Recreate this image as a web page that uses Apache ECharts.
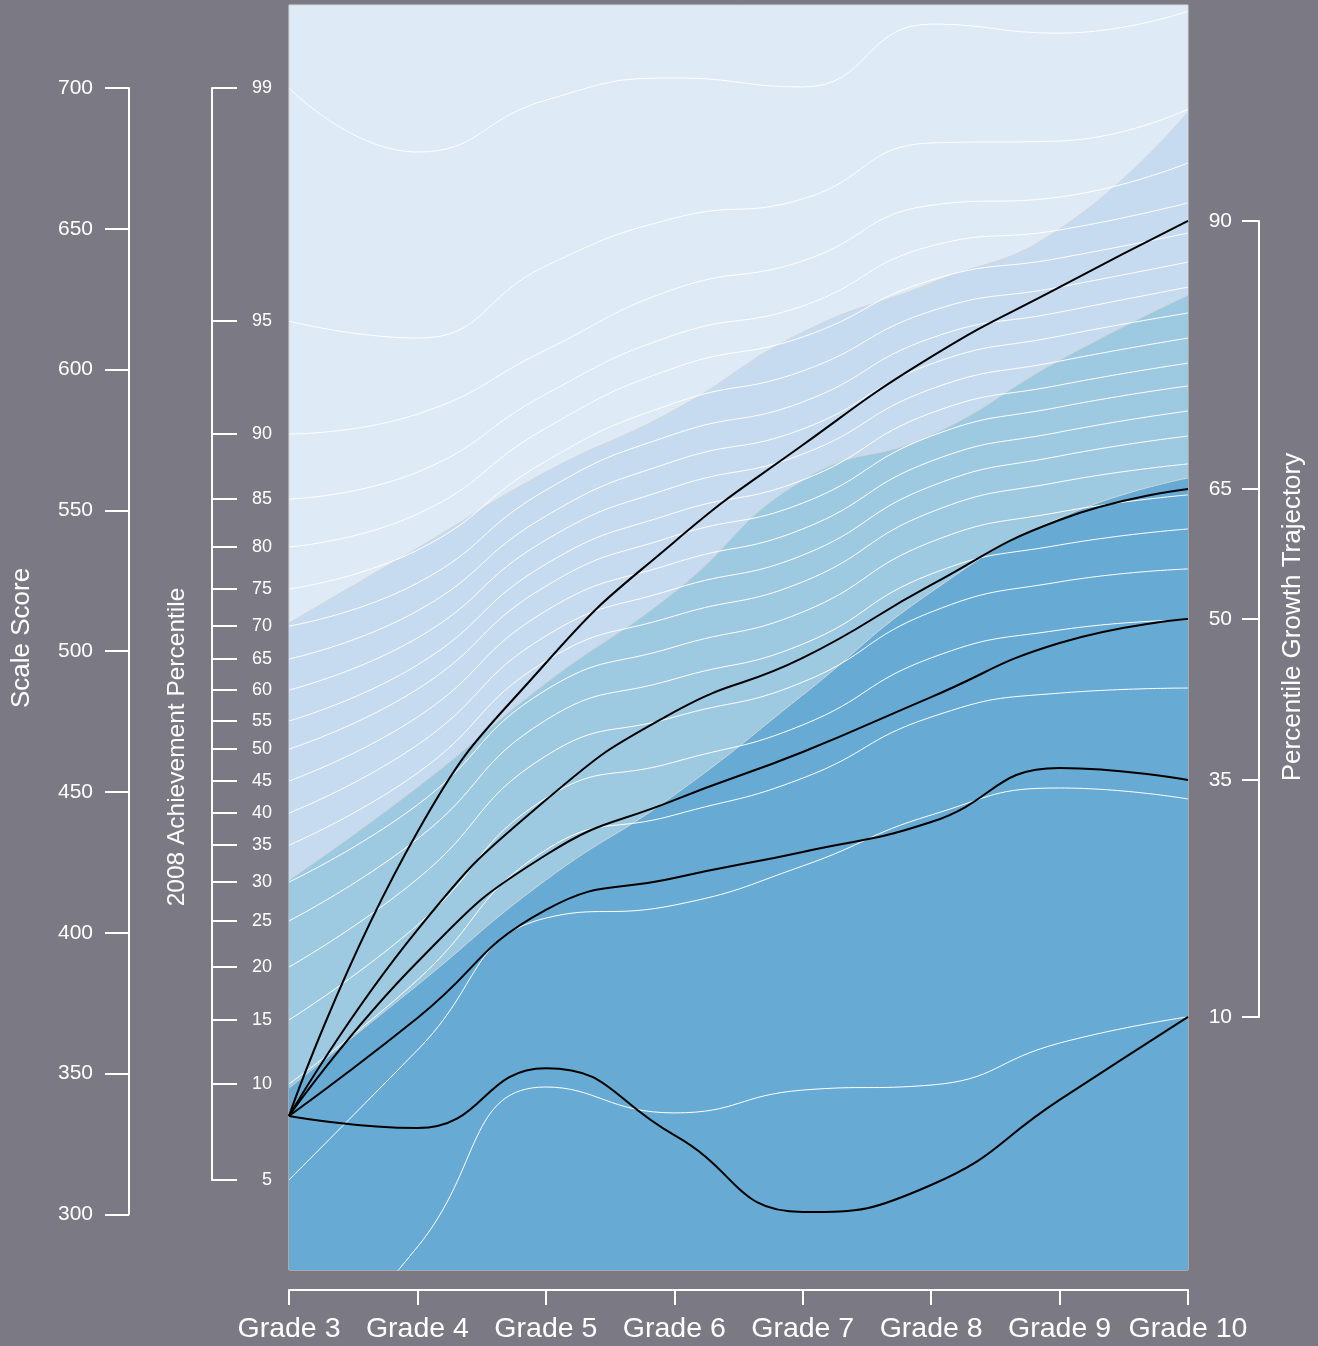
<!DOCTYPE html>
<html>
<head>
<meta charset="utf-8">
<script src="https://cdn.jsdelivr.net/npm/echarts@6/dist/echarts.min.js"></script>
<style>
  html, body { margin: 0; padding: 0; background: #7b7a84; }
  #growth_chart { width: 1318px; height: 1346px; }
</style>
</head>
<body>
<div id="growth_chart"></div>
<script>
var grades = ['Grade 3', 'Grade 4', 'Grade 5', 'Grade 6', 'Grade 7', 'Grade 8', 'Grade 9', 'Grade 10'];

// achievement percentile curves, scale score at each grade
var pct99 = [700.0, 677.3, 695.7, 703.6, 700.4, 722.7, 719.5, 727.3];
var pct95 = [617.2, 611.2, 636.8, 653.8, 660.6, 680.5, 681.2, 692.5];
var pct90 = [577.1, 584.2, 607.0, 628.6, 638.6, 658.4, 661.3, 673.4];
var pct85 = [554.0, 563.6, 591.3, 612.3, 622.6, 643.9, 649.6, 659.2];
var pct80 = [537.0, 548.7, 579.2, 600.6, 611.6, 631.8, 639.6, 648.5];
var pct75 = [522.1, 535.9, 567.5, 588.1, 599.5, 620.8, 629.3, 638.2];
var pct70 = [508.9, 524.2, 557.2, 577.1, 588.5, 611.2, 620.4, 629.3];
var pct65 = [497.2, 514.3, 548.0, 567.5, 578.9, 602.0, 611.9, 620.1];
var pct60 = [486.2, 504.7, 539.5, 558.3, 570.0, 593.1, 603.0, 611.2];
var pct55 = [475.2, 495.1, 530.9, 549.1, 560.8, 584.6, 594.5, 602.3];
var pct50 = [465.2, 486.5, 523.1, 540.9, 552.6, 576.4, 586.7, 594.2];
var pct45 = [453.9, 476.6, 514.3, 531.3, 543.4, 567.5, 577.8, 585.3];
var pct40 = [442.5, 466.7, 505.4, 522.1, 534.1, 558.6, 569.3, 576.4];
var pct35 = [431.1, 456.7, 496.5, 512.5, 524.6, 549.4, 560.1, 566.5];
var pct30 = [418.0, 445.4, 486.2, 501.5, 513.9, 538.8, 549.4, 555.5];
var pct25 = [404.2, 433.3, 475.5, 490.1, 502.5, 527.4, 537.7, 543.4];
var pct20 = [387.8, 419.1, 462.8, 476.6, 489.0, 513.9, 524.6, 529.2];
var pct15 = [369.0, 402.7, 447.8, 460.6, 473.8, 497.6, 507.5, 511.1];
var pct10 = [346.3, 383.2, 429.4, 441.8, 454.9, 476.6, 485.1, 486.9];
var pct5  = [312.2, 358.3, 405.2, 409.8, 423.7, 441.8, 451.4, 447.5];
var pct1  = [234.0, 288.4, 345.2, 336.0, 344.1, 345.9, 360.8, 370.1];

// cut scores between the achievement levels
var cutPartial    = [344.8, 381.4, 418.7, 448.9, 484.4, 521.0, 547.3, 561.5];
var cutProficient = [418.7, 451.7, 488.7, 521.0, 560.8, 576.8, 603.4, 626.5];
var cutAdvanced   = [510.0, 536.6, 563.6, 585.6, 613.3, 630.7, 649.9, 691.5];

// growth trajectories
var traj90 = [334.9, 435.8, 495.8, 538.8, 573.2, 604.5, 629.3, 652.8];
var traj65 = [334.9, 401.0, 447.1, 478.4, 497.6, 523.5, 546.6, 557.6];
var traj50 = [334.9, 389.6, 427.6, 447.1, 464.2, 483.7, 502.9, 511.4];
var traj35 = [334.9, 369.7, 408.1, 419.4, 428.7, 439.3, 458.5, 454.2];
var traj10 = [334.9, 330.6, 351.9, 328.1, 300.8, 310.4, 340.6, 370.1];

var pctNames = [99, 95, 90, 85, 80, 75, 70, 65, 60, 55, 50, 45, 40, 35, 30, 25, 20, 15, 10, 5, 1];
var pctLines = [pct99, pct95, pct90, pct85, pct80, pct75, pct70, pct65, pct60, pct55, pct50,
                pct45, pct40, pct35, pct30, pct25, pct20, pct15, pct10, pct5, pct1];
var trajNames = [90, 65, 50, 35, 10];
var trajLines = [traj90, traj65, traj50, traj35, traj10];

var scaleMin = 300, scaleMax = 700, scaleStep = 50;

var yMin = 280.2, yMax = 729.5;
var plotTop = 5, plotLeft = 289, plotWidth = 899, plotHeight = 1265;
var font = 'Liberation Sans, Arial, sans-serif';

function px(v) {
    return plotTop + (yMax - v) / (yMax - yMin) * plotHeight;
}

// percentile axis ticks sit where each curve starts (grade 3)
var pctTickVals = [], pctTickNames = [];
for (var i = 0; i < pctNames.length; i++) {
    if (pctLines[i][0] >= yMin) {
        pctTickVals.push(pctLines[i][0]);
        pctTickNames.push(pctNames[i]);
    }
}
// growth axis ticks sit where each trajectory ends (grade 10)
var trajTickVals = trajLines.map(function (t) { return t[t.length - 1]; });

function lookup(vals, names) {
    return function (v) {
        for (var k = 0; k < vals.length; k++) {
            if (Math.abs(vals[k] - v) < 0.01) return String(names[k]);
        }
        return '';
    };
}

var pctTop = Math.max.apply(null, pctTickVals), pctBottom = Math.min.apply(null, pctTickVals);
var trajTop = Math.max.apply(null, trajTickVals), trajBottom = Math.min.apply(null, trajTickVals);

var series = [];

// bands, drawn from the top level down so each lower band covers the one above
[[cutAdvanced, '#c6dbef'], [cutProficient, '#9ecae1'], [cutPartial, '#67abd5']].forEach(function (b) {
    series.push({
        type: 'line',
        data: b[0],
        smooth: true,
        symbol: 'none',
        z: 1,
        lineStyle: { color: '#d6d6d6', width: 1 },
        areaStyle: { color: b[1], opacity: 1, origin: 'start' },
        silent: true
    });
});

pctLines.forEach(function (d, i) {
    series.push({
        name: pctNames[i] + ' percentile',
        type: 'line',
        data: d,
        smooth: true,
        symbol: 'none',
        z: 2,
        lineStyle: { color: '#ffffff', width: 1 },
        silent: true
    });
});

trajLines.forEach(function (d, i) {
    series.push({
        name: trajNames[i] + ' trajectory',
        type: 'line',
        data: d,
        smooth: true,
        symbol: 'none',
        z: 3,
        lineStyle: { color: '#000000', width: 2 },
        silent: true
    });
});

function title(text, x, y, size) {
    return {
        type: 'text', x: x, y: y, rotation: Math.PI / 2,
        style: { text: text, fill: '#ffffff', font: size + 'px ' + font,
                 align: 'center', verticalAlign: 'middle',
                 textAlign: 'center', textVerticalAlign: 'middle' }
    };
}

var option = {
    backgroundColor: '#7b7a84',
    animation: false,
    grid: [
        {
            left: plotLeft, top: plotTop, width: plotWidth, height: plotHeight,
            show: true, backgroundColor: '#deebf7', borderColor: '#d6d6d6', borderWidth: 1
        },
        { left: 129, width: 1, top: px(scaleMax), height: px(scaleMin) - px(scaleMax) },
        { left: 212, width: 1, top: px(pctTop), height: px(pctBottom) - px(pctTop) },
        { left: 1259, width: 1, top: px(trajTop), height: px(trajBottom) - px(trajTop) }
    ],
    xAxis: [
        {
            gridIndex: 0,
            type: 'category',
            data: grades,
            boundaryGap: false,
            offset: 20,
            axisLine: { lineStyle: { color: '#ffffff', width: 2 } },
            axisTick: { length: 15, lineStyle: { color: '#ffffff', width: 2 } },
            axisLabel: { color: '#ffffff', fontSize: 28.5, fontFamily: font, margin: 25, interval: 0 },
            splitLine: { show: false }
        },
        { gridIndex: 1, type: 'value', show: false },
        { gridIndex: 2, type: 'value', show: false },
        { gridIndex: 3, type: 'value', show: false }
    ],
    yAxis: [
        { gridIndex: 0, type: 'value', min: yMin, max: yMax, show: false },
        {
            gridIndex: 1,
            type: 'value',
            position: 'left',
            min: scaleMin, max: scaleMax, interval: scaleStep,
            axisLine: { show: true, lineStyle: { color: '#ffffff', width: 2 } },
            axisTick: { show: true, length: 24, lineStyle: { color: '#ffffff', width: 2 } },
            axisLabel: { color: '#ffffff', fontSize: 21, fontFamily: font, margin: 36 },
            splitLine: { show: false }
        },
        {
            gridIndex: 2,
            type: 'value',
            position: 'left',
            min: pctBottom, max: pctTop,
            axisLine: { show: true, lineStyle: { color: '#ffffff', width: 2 } },
            axisTick: { show: true, inside: true, length: 25, customValues: pctTickVals,
                        lineStyle: { color: '#ffffff', width: 2 } },
            axisLabel: { inside: true, align: 'right', margin: 60, color: '#ffffff', fontSize: 18,
                         fontFamily: font, customValues: pctTickVals,
                         formatter: lookup(pctTickVals, pctTickNames) },
            splitLine: { show: false }
        },
        {
            gridIndex: 3,
            type: 'value',
            position: 'right',
            min: trajBottom, max: trajTop,
            axisLine: { show: true, lineStyle: { color: '#ffffff', width: 2 } },
            axisTick: { show: true, inside: true, length: 17, customValues: trajTickVals,
                        lineStyle: { color: '#ffffff', width: 2 } },
            axisLabel: { inside: true, margin: 28, color: '#ffffff', fontSize: 21, fontFamily: font,
                         customValues: trajTickVals, formatter: lookup(trajTickVals, trajNames) },
            splitLine: { show: false }
        }
    ],
    graphic: [
        title('Scale Score', 22, 638, 26),
        title('2008 Achievement Percentile', 177, 747, 24.5),
        title('Percentile Growth Trajectory', 1293, 617, 26)
    ],
    series: series
};

var myChart = echarts.init(document.getElementById('growth_chart'));
option && myChart.setOption(option);
</script>
</body>
</html>
